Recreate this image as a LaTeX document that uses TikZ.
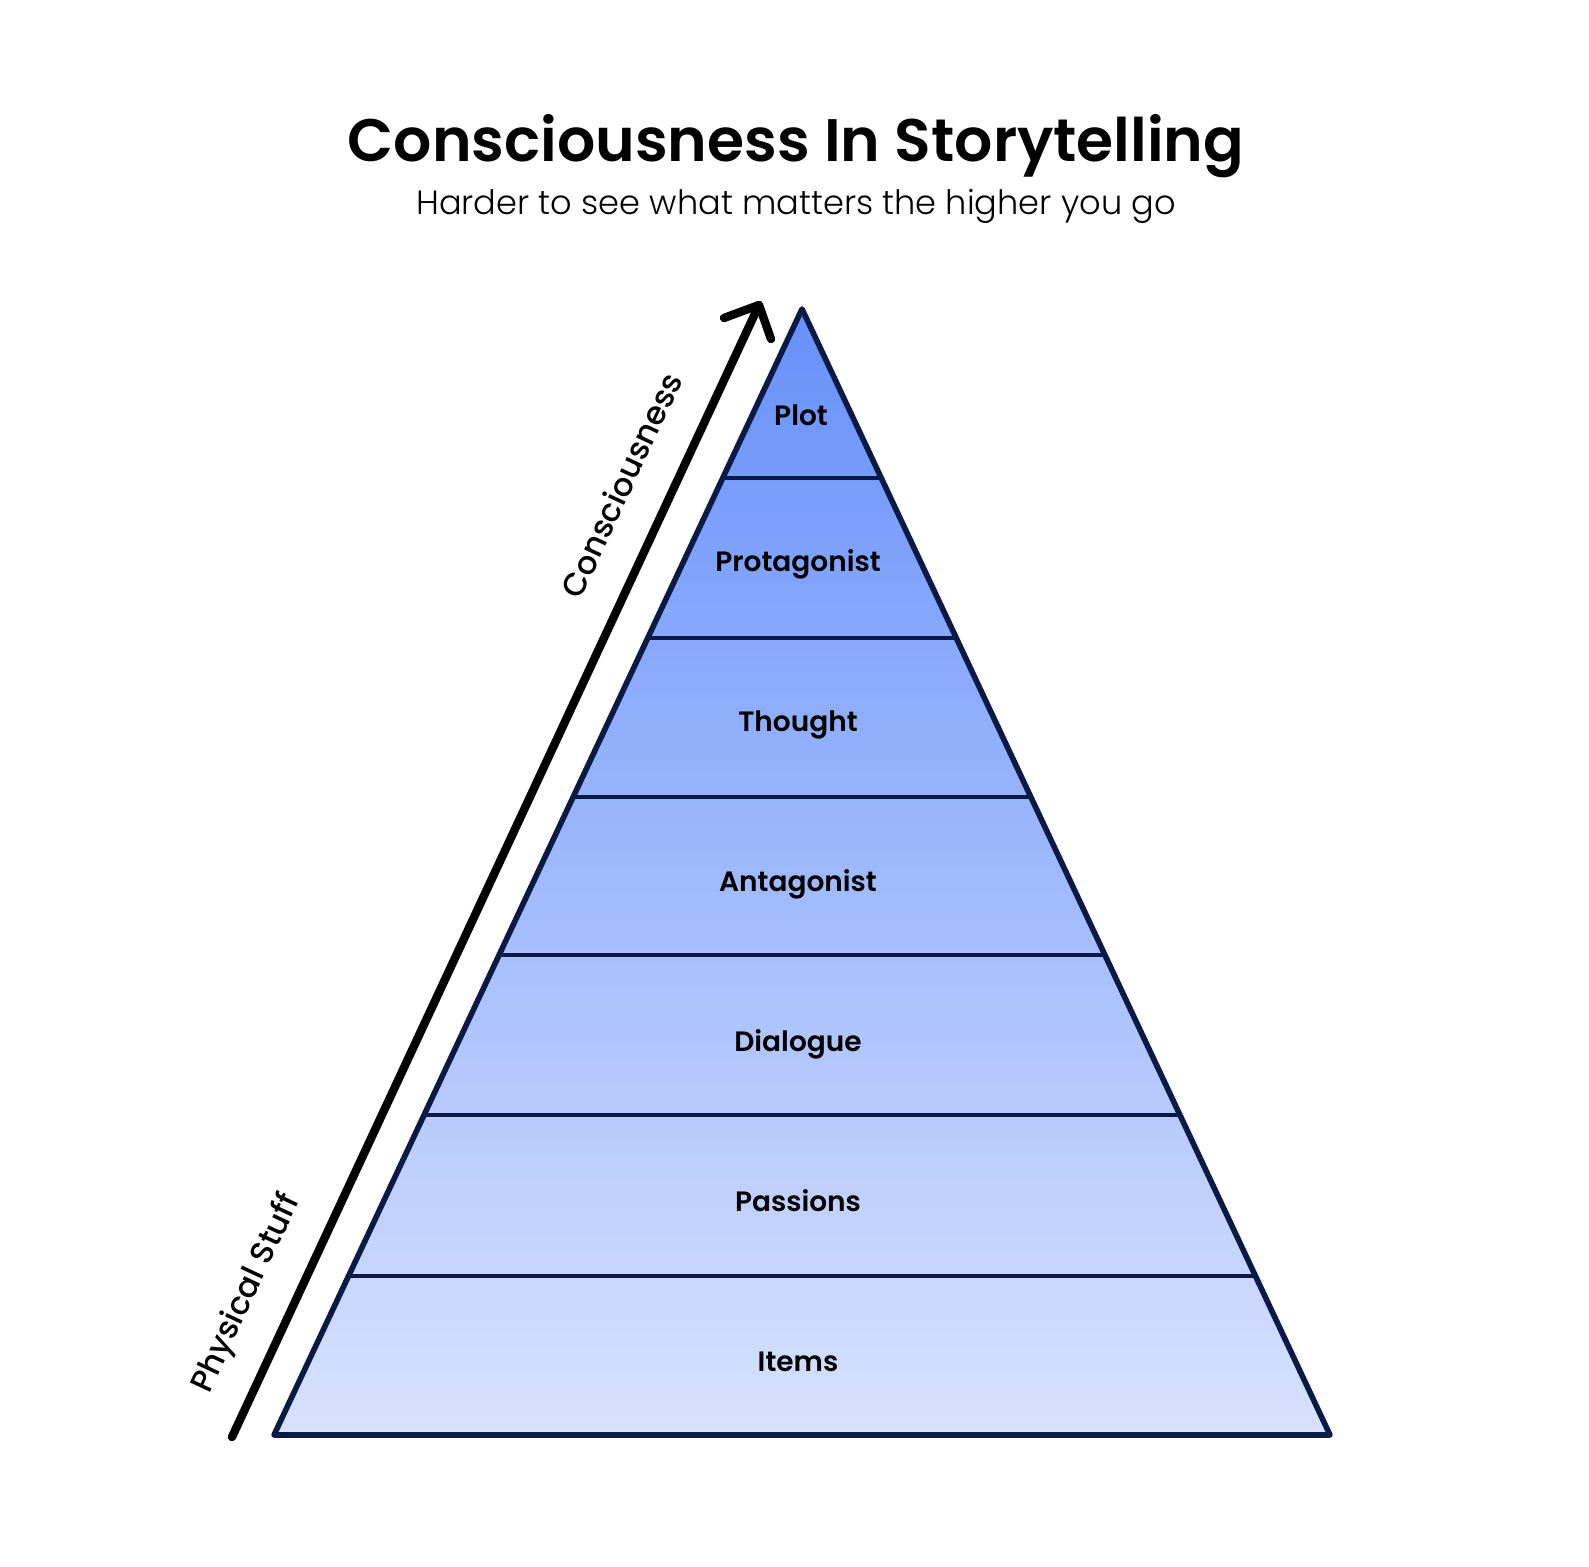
\documentclass[tikz,border=0pt]{standalone}
\usepackage{fontspec}
\setmainfont{Poppins}[BoldFont={Poppins SemiBold}]
\newfontfamily\lightfont{Poppins Light}
\newfontfamily\mediumfont{Poppins Medium}
\definecolor{edgecol}{HTML}{0B1A45}
\definecolor{pyrtop}{HTML}{6690FA}
\definecolor{pyrbot}{HTML}{D8E2FD}
\tikzset{
  outline/.style={draw=edgecol, line width=2.8pt, line join=round},
  divider/.style={draw=edgecol, line width=2.2pt},
  bandlabel/.style={anchor=base, font=\bfseries\fontsize{14}{16}\selectfont, text=black, inner sep=0pt},
  axisline/.style={draw=black, line width=4.2pt, line cap=round, line join=round},
  axislabel/.style={font=\mediumfont\fontsize{16}{19}\selectfont, rotate=65, inner sep=0pt},
}
\begin{document}
\begin{tikzpicture}[x=0.5pt,y=-0.5pt]
\useasboundingbox (0,0) rectangle (1589,1567);
\fill[white] (0,0) rectangle (1589,1567);

% title block
\node[anchor=base, font=\bfseries\fontsize{30}{36}\selectfont] (title) at (796,162) {Consciousness In Storytelling};
\node[anchor=base, font=\lightfont\fontsize{16.8}{20}\selectfont] (subtitle) at (796,215) {Harder to see what matters the higher you go};

% pyramid corners
\coordinate (apex) at (802,309);
\coordinate (bl) at (274,1435);
\coordinate (br) at (1330,1435);

% body with vertical colour fade
\shade[top color=pyrtop, bottom color=pyrbot] (apex) -- (br) -- (bl) -- cycle;

% band boundaries
\draw[divider] (722.8,478) -- (881.2,478);
\draw[divider] (647.7,638) -- (956.3,638);
\draw[divider] (573.2,797) -- (1030.8,797);
\draw[divider] (499.1,955) -- (1104.9,955);
\draw[divider] (424.0,1115) -- (1180.0,1115);
\draw[divider] (348.6,1276) -- (1255.4,1276);

\draw[outline] (apex) -- (br) -- (bl) -- cycle;

% band labels
\node[bandlabel] (plot) at (801,425) {Plot};
\node[bandlabel] (protagonist) at (798,571) {Protagonist};
\node[bandlabel] (thought) at (798,731) {Thought};
\node[bandlabel] (antagonist) at (798,891) {Antagonist};
\node[bandlabel] (dialogue) at (798,1051) {Dialogue};
\node[bandlabel] (passions) at (798,1211) {Passions};
\node[bandlabel] (items) at (798,1371) {Items};

% consciousness axis
\coordinate (low) at (232,1437);
\coordinate (high) at (759,305);
\coordinate (barbl) at (724,318);
\coordinate (barbr) at (771,339);
\draw[axisline] (low) -- (high);
\draw[axisline] (barbl) -- (high) -- (barbr);

\node[axislabel] (upper) at (621,485) {Consciousness};
\node[axislabel] (lower) at (247,1294) {Physical Stuff};
\end{tikzpicture}
\end{document}
